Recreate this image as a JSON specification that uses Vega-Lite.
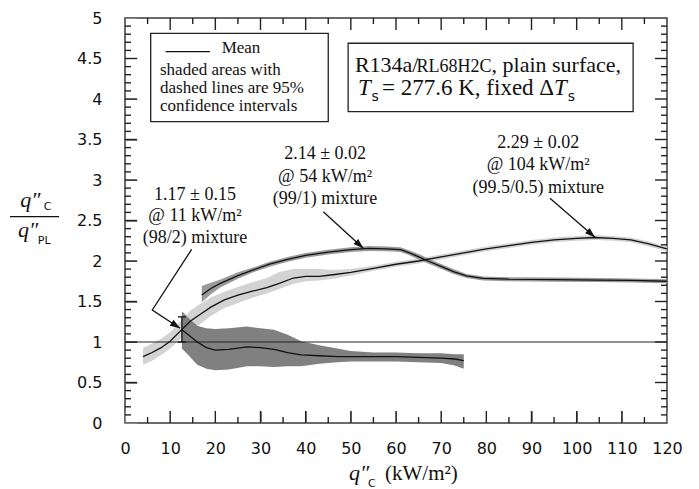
{
  "$schema": "https://vega.github.io/schema/vega-lite/v6.json",
  "width": 542,
  "height": 405,
  "autosize": "none",
  "padding": {"left": 125, "top": 18, "right": 32, "bottom": 66},
  "background": "white",
  "config": {
    "view": {"stroke": "#3a3a3a", "strokeWidth": 1.5},
    "axis": {"labelFont": "DejaVu Sans", "labelFontSize": 16, "labelColor": "#111", "domain": false, "grid": false, "labelFlush": false, "labelOverlap": false}
  },
  "datasets": {
    "curves": [
      {"s": "A", "x": 12.6, "m": 1.15, "lo": 0.92, "hi": 1.38},
      {"s": "A", "x": 14, "m": 1.09, "lo": 0.84, "hi": 1.3},
      {"s": "A", "x": 16, "m": 1.0, "lo": 0.72, "hi": 1.2},
      {"s": "A", "x": 18, "m": 0.93, "lo": 0.67, "hi": 1.17},
      {"s": "A", "x": 20, "m": 0.9, "lo": 0.65, "hi": 1.16},
      {"s": "A", "x": 23, "m": 0.91, "lo": 0.66, "hi": 1.17},
      {"s": "A", "x": 27, "m": 0.94, "lo": 0.7, "hi": 1.19},
      {"s": "A", "x": 30, "m": 0.93, "lo": 0.7, "hi": 1.17},
      {"s": "A", "x": 33, "m": 0.91, "lo": 0.69, "hi": 1.15},
      {"s": "A", "x": 36, "m": 0.87, "lo": 0.7, "hi": 1.09},
      {"s": "A", "x": 39, "m": 0.84, "lo": 0.7, "hi": 1.01},
      {"s": "A", "x": 43, "m": 0.83, "lo": 0.73, "hi": 0.96},
      {"s": "A", "x": 47, "m": 0.82, "lo": 0.75, "hi": 0.92},
      {"s": "A", "x": 50, "m": 0.82, "lo": 0.76, "hi": 0.89},
      {"s": "A", "x": 55, "m": 0.82, "lo": 0.76, "hi": 0.87},
      {"s": "A", "x": 60, "m": 0.82, "lo": 0.76, "hi": 0.87},
      {"s": "A", "x": 65, "m": 0.81, "lo": 0.75, "hi": 0.86},
      {"s": "A", "x": 70, "m": 0.8, "lo": 0.74, "hi": 0.86},
      {"s": "A", "x": 73, "m": 0.79, "lo": 0.71, "hi": 0.85},
      {"s": "A", "x": 75, "m": 0.77, "lo": 0.67, "hi": 0.85},
      {"s": "B", "x": 4, "m": 0.82, "lo": 0.72, "hi": 0.93},
      {"s": "B", "x": 6, "m": 0.87, "lo": 0.77, "hi": 0.98},
      {"s": "B", "x": 8, "m": 0.93, "lo": 0.84, "hi": 1.04},
      {"s": "B", "x": 10, "m": 1.01, "lo": 0.92, "hi": 1.12},
      {"s": "B", "x": 12.5, "m": 1.15, "lo": 1.05, "hi": 1.27},
      {"s": "B", "x": 14.5, "m": 1.26, "lo": 1.15, "hi": 1.39},
      {"s": "B", "x": 16.6, "m": 1.34, "lo": 1.22, "hi": 1.47},
      {"s": "B", "x": 19, "m": 1.43, "lo": 1.32, "hi": 1.55},
      {"s": "B", "x": 22, "m": 1.52, "lo": 1.42, "hi": 1.62},
      {"s": "B", "x": 25, "m": 1.58, "lo": 1.48, "hi": 1.68},
      {"s": "B", "x": 28.4, "m": 1.63, "lo": 1.55, "hi": 1.74},
      {"s": "B", "x": 31.4, "m": 1.67, "lo": 1.6, "hi": 1.79},
      {"s": "B", "x": 34, "m": 1.72, "lo": 1.65, "hi": 1.86},
      {"s": "B", "x": 37.3, "m": 1.79, "lo": 1.72, "hi": 1.9},
      {"s": "B", "x": 40, "m": 1.81, "lo": 1.75, "hi": 1.9},
      {"s": "B", "x": 43, "m": 1.81, "lo": 1.76, "hi": 1.9},
      {"s": "B", "x": 46, "m": 1.83, "lo": 1.78, "hi": 1.89},
      {"s": "B", "x": 50, "m": 1.86, "lo": 1.82, "hi": 1.9},
      {"s": "B", "x": 55, "m": 1.91, "lo": 1.88, "hi": 1.94},
      {"s": "B", "x": 60, "m": 1.96, "lo": 1.93, "hi": 1.99},
      {"s": "B", "x": 65, "m": 2.0, "lo": 1.97, "hi": 2.03},
      {"s": "B", "x": 70, "m": 2.05, "lo": 2.02, "hi": 2.08},
      {"s": "B", "x": 75, "m": 2.1, "lo": 2.07, "hi": 2.13},
      {"s": "B", "x": 80, "m": 2.15, "lo": 2.12, "hi": 2.18},
      {"s": "B", "x": 85, "m": 2.19, "lo": 2.16, "hi": 2.22},
      {"s": "B", "x": 90, "m": 2.23, "lo": 2.2, "hi": 2.26},
      {"s": "B", "x": 95, "m": 2.26, "lo": 2.23, "hi": 2.29},
      {"s": "B", "x": 100, "m": 2.28, "lo": 2.25, "hi": 2.31},
      {"s": "B", "x": 104, "m": 2.29, "lo": 2.26, "hi": 2.32},
      {"s": "B", "x": 108, "m": 2.28, "lo": 2.25, "hi": 2.31},
      {"s": "B", "x": 112, "m": 2.26, "lo": 2.23, "hi": 2.29},
      {"s": "B", "x": 116, "m": 2.21, "lo": 2.18, "hi": 2.24},
      {"s": "B", "x": 120, "m": 2.15, "lo": 2.12, "hi": 2.18},
      {"s": "C", "x": 17, "m": 1.58, "lo": 1.49, "hi": 1.69},
      {"s": "C", "x": 19, "m": 1.66, "lo": 1.59, "hi": 1.73},
      {"s": "C", "x": 21, "m": 1.72, "lo": 1.67, "hi": 1.77},
      {"s": "C", "x": 25, "m": 1.82, "lo": 1.78, "hi": 1.86},
      {"s": "C", "x": 28.4, "m": 1.89, "lo": 1.86, "hi": 1.92},
      {"s": "C", "x": 32, "m": 1.96, "lo": 1.93, "hi": 1.99},
      {"s": "C", "x": 36, "m": 2.02, "lo": 1.99, "hi": 2.05},
      {"s": "C", "x": 40, "m": 2.07, "lo": 2.04, "hi": 2.1},
      {"s": "C", "x": 45, "m": 2.11, "lo": 2.08, "hi": 2.14},
      {"s": "C", "x": 50, "m": 2.14, "lo": 2.11, "hi": 2.17},
      {"s": "C", "x": 54, "m": 2.155, "lo": 2.125, "hi": 2.185},
      {"s": "C", "x": 58, "m": 2.15, "lo": 2.12, "hi": 2.18},
      {"s": "C", "x": 61, "m": 2.14, "lo": 2.11, "hi": 2.17},
      {"s": "C", "x": 63, "m": 2.1, "lo": 2.07, "hi": 2.13},
      {"s": "C", "x": 65.3, "m": 2.045, "lo": 2.01, "hi": 2.08},
      {"s": "C", "x": 67.1, "m": 2.0, "lo": 1.97, "hi": 2.03},
      {"s": "C", "x": 69.7, "m": 1.94, "lo": 1.91, "hi": 1.97},
      {"s": "C", "x": 72.7, "m": 1.87, "lo": 1.84, "hi": 1.9},
      {"s": "C", "x": 75.6, "m": 1.815, "lo": 1.79, "hi": 1.84},
      {"s": "C", "x": 79.3, "m": 1.785, "lo": 1.76, "hi": 1.81},
      {"s": "C", "x": 85, "m": 1.775, "lo": 1.75, "hi": 1.8},
      {"s": "C", "x": 95, "m": 1.77, "lo": 1.745, "hi": 1.795},
      {"s": "C", "x": 105, "m": 1.765, "lo": 1.74, "hi": 1.79},
      {"s": "C", "x": 112, "m": 1.76, "lo": 1.735, "hi": 1.785},
      {"s": "C", "x": 120, "m": 1.75, "lo": 1.725, "hi": 1.775}
    ],
    "ann": [
      {"x": 15.5, "y": 2.753, "t": "1.17 ± 0.15"},
      {"x": 15.5, "y": 2.49, "t": "@ 11 kW/m²"},
      {"x": 15.5, "y": 2.222, "t": "(98/2) mixture"},
      {"x": 44.3, "y": 3.256, "t": "2.14 ± 0.02"},
      {"x": 44.3, "y": 2.979, "t": "@ 54 kW/m²"},
      {"x": 44.3, "y": 2.704, "t": "(99/1) mixture"},
      {"x": 91.5, "y": 3.395, "t": "2.29 ± 0.02"},
      {"x": 91.5, "y": 3.123, "t": "@ 104 kW/m²"},
      {"x": 91.5, "y": 2.84, "t": "(99.5/0.5) mixture"}
    ],
    "leg": [
      {"x": 21.4, "y": 4.568, "t": "Mean"},
      {"x": 7.75, "y": 4.3, "t": "shaded areas with"},
      {"x": 7.75, "y": 4.075, "t": "dashed lines are 95%"},
      {"x": 7.75, "y": 3.85, "t": "confidence intervals"}
    ],
    "arrows": [
      {"a": 1, "k": 0, "x": 14.76, "y": 2.144},
      {"a": 1, "k": 1, "x": 6.04, "y": 1.395},
      {"a": 1, "k": 2, "x": 12.18, "y": 1.169},
      {"a": 2, "k": 0, "x": 43.9, "y": 2.609},
      {"a": 2, "k": 1, "x": 52.76, "y": 2.157},
      {"a": 3, "k": 0, "x": 94.09, "y": 2.774},
      {"a": 3, "k": 1, "x": 104.05, "y": 2.293}
    ],
    "xticks": [
      {"x": 5, "y": 0, "y2": 0.074}, {"x": 10, "y": 0, "y2": 0.148}, {"x": 15, "y": 0, "y2": 0.074}, {"x": 20, "y": 0, "y2": 0.148},
      {"x": 25, "y": 0, "y2": 0.074}, {"x": 30, "y": 0, "y2": 0.148}, {"x": 35, "y": 0, "y2": 0.074}, {"x": 40, "y": 0, "y2": 0.148},
      {"x": 45, "y": 0, "y2": 0.074}, {"x": 50, "y": 0, "y2": 0.148}, {"x": 55, "y": 0, "y2": 0.074}, {"x": 60, "y": 0, "y2": 0.148},
      {"x": 65, "y": 0, "y2": 0.074}, {"x": 70, "y": 0, "y2": 0.148}, {"x": 75, "y": 0, "y2": 0.074}, {"x": 80, "y": 0, "y2": 0.148},
      {"x": 85, "y": 0, "y2": 0.074}, {"x": 90, "y": 0, "y2": 0.148}, {"x": 95, "y": 0, "y2": 0.074}, {"x": 100, "y": 0, "y2": 0.148},
      {"x": 105, "y": 0, "y2": 0.074}, {"x": 110, "y": 0, "y2": 0.148}, {"x": 115, "y": 0, "y2": 0.074},
      {"x": 5, "y": 5, "y2": 4.926}, {"x": 10, "y": 5, "y2": 4.852}, {"x": 15, "y": 5, "y2": 4.926}, {"x": 20, "y": 5, "y2": 4.852},
      {"x": 25, "y": 5, "y2": 4.926}, {"x": 30, "y": 5, "y2": 4.852}, {"x": 35, "y": 5, "y2": 4.926}, {"x": 40, "y": 5, "y2": 4.852},
      {"x": 45, "y": 5, "y2": 4.926}, {"x": 50, "y": 5, "y2": 4.852}, {"x": 55, "y": 5, "y2": 4.926}, {"x": 60, "y": 5, "y2": 4.852},
      {"x": 65, "y": 5, "y2": 4.926}, {"x": 70, "y": 5, "y2": 4.852}, {"x": 75, "y": 5, "y2": 4.926}, {"x": 80, "y": 5, "y2": 4.852},
      {"x": 85, "y": 5, "y2": 4.926}, {"x": 90, "y": 5, "y2": 4.852}, {"x": 95, "y": 5, "y2": 4.926}, {"x": 100, "y": 5, "y2": 4.852},
      {"x": 105, "y": 5, "y2": 4.926}, {"x": 110, "y": 5, "y2": 4.852}, {"x": 115, "y": 5, "y2": 4.926}
    ],
    "yticks": [
      {"x": 0, "x2": 1.33, "y": 0.1}, {"x": 0, "x2": 1.33, "y": 0.2}, {"x": 0, "x2": 1.33, "y": 0.3}, {"x": 0, "x2": 1.33, "y": 0.4}, {"x": 0, "x2": 2.66, "y": 0.5},
      {"x": 0, "x2": 1.33, "y": 0.6}, {"x": 0, "x2": 1.33, "y": 0.7}, {"x": 0, "x2": 1.33, "y": 0.8}, {"x": 0, "x2": 1.33, "y": 0.9}, {"x": 0, "x2": 2.66, "y": 1},
      {"x": 0, "x2": 1.33, "y": 1.1}, {"x": 0, "x2": 1.33, "y": 1.2}, {"x": 0, "x2": 1.33, "y": 1.3}, {"x": 0, "x2": 1.33, "y": 1.4}, {"x": 0, "x2": 2.66, "y": 1.5},
      {"x": 0, "x2": 1.33, "y": 1.6}, {"x": 0, "x2": 1.33, "y": 1.7}, {"x": 0, "x2": 1.33, "y": 1.8}, {"x": 0, "x2": 1.33, "y": 1.9}, {"x": 0, "x2": 2.66, "y": 2},
      {"x": 0, "x2": 1.33, "y": 2.1}, {"x": 0, "x2": 1.33, "y": 2.2}, {"x": 0, "x2": 1.33, "y": 2.3}, {"x": 0, "x2": 1.33, "y": 2.4}, {"x": 0, "x2": 2.66, "y": 2.5},
      {"x": 0, "x2": 1.33, "y": 2.6}, {"x": 0, "x2": 1.33, "y": 2.7}, {"x": 0, "x2": 1.33, "y": 2.8}, {"x": 0, "x2": 1.33, "y": 2.9}, {"x": 0, "x2": 2.66, "y": 3},
      {"x": 0, "x2": 1.33, "y": 3.1}, {"x": 0, "x2": 1.33, "y": 3.2}, {"x": 0, "x2": 1.33, "y": 3.3}, {"x": 0, "x2": 1.33, "y": 3.4}, {"x": 0, "x2": 2.66, "y": 3.5},
      {"x": 0, "x2": 1.33, "y": 3.6}, {"x": 0, "x2": 1.33, "y": 3.7}, {"x": 0, "x2": 1.33, "y": 3.8}, {"x": 0, "x2": 1.33, "y": 3.9}, {"x": 0, "x2": 2.66, "y": 4},
      {"x": 0, "x2": 1.33, "y": 4.1}, {"x": 0, "x2": 1.33, "y": 4.2}, {"x": 0, "x2": 1.33, "y": 4.3}, {"x": 0, "x2": 1.33, "y": 4.4}, {"x": 0, "x2": 2.66, "y": 4.5},
      {"x": 0, "x2": 1.33, "y": 4.6}, {"x": 0, "x2": 1.33, "y": 4.7}, {"x": 0, "x2": 1.33, "y": 4.8}, {"x": 0, "x2": 1.33, "y": 4.9},
      {"x": 120, "x2": 118.67, "y": 0.1}, {"x": 120, "x2": 118.67, "y": 0.2}, {"x": 120, "x2": 118.67, "y": 0.3}, {"x": 120, "x2": 118.67, "y": 0.4}, {"x": 120, "x2": 117.34, "y": 0.5},
      {"x": 120, "x2": 118.67, "y": 0.6}, {"x": 120, "x2": 118.67, "y": 0.7}, {"x": 120, "x2": 118.67, "y": 0.8}, {"x": 120, "x2": 118.67, "y": 0.9}, {"x": 120, "x2": 117.34, "y": 1},
      {"x": 120, "x2": 118.67, "y": 1.1}, {"x": 120, "x2": 118.67, "y": 1.2}, {"x": 120, "x2": 118.67, "y": 1.3}, {"x": 120, "x2": 118.67, "y": 1.4}, {"x": 120, "x2": 117.34, "y": 1.5},
      {"x": 120, "x2": 118.67, "y": 1.6}, {"x": 120, "x2": 118.67, "y": 1.7}, {"x": 120, "x2": 118.67, "y": 1.8}, {"x": 120, "x2": 118.67, "y": 1.9}, {"x": 120, "x2": 117.34, "y": 2},
      {"x": 120, "x2": 118.67, "y": 2.1}, {"x": 120, "x2": 118.67, "y": 2.2}, {"x": 120, "x2": 118.67, "y": 2.3}, {"x": 120, "x2": 118.67, "y": 2.4}, {"x": 120, "x2": 117.34, "y": 2.5},
      {"x": 120, "x2": 118.67, "y": 2.6}, {"x": 120, "x2": 118.67, "y": 2.7}, {"x": 120, "x2": 118.67, "y": 2.8}, {"x": 120, "x2": 118.67, "y": 2.9}, {"x": 120, "x2": 117.34, "y": 3},
      {"x": 120, "x2": 118.67, "y": 3.1}, {"x": 120, "x2": 118.67, "y": 3.2}, {"x": 120, "x2": 118.67, "y": 3.3}, {"x": 120, "x2": 118.67, "y": 3.4}, {"x": 120, "x2": 117.34, "y": 3.5},
      {"x": 120, "x2": 118.67, "y": 3.6}, {"x": 120, "x2": 118.67, "y": 3.7}, {"x": 120, "x2": 118.67, "y": 3.8}, {"x": 120, "x2": 118.67, "y": 3.9}, {"x": 120, "x2": 117.34, "y": 4},
      {"x": 120, "x2": 118.67, "y": 4.1}, {"x": 120, "x2": 118.67, "y": 4.2}, {"x": 120, "x2": 118.67, "y": 4.3}, {"x": 120, "x2": 118.67, "y": 4.4}, {"x": 120, "x2": 117.34, "y": 4.5},
      {"x": 120, "x2": 118.67, "y": 4.6}, {"x": 120, "x2": 118.67, "y": 4.7}, {"x": 120, "x2": 118.67, "y": 4.8}, {"x": 120, "x2": 118.67, "y": 4.9}
    ]
  },
  "encoding": {
    "x": {"field": "x", "type": "quantitative", "scale": {"domain": [0, 120], "nice": false, "zero": false}, "axis": null},
    "y": {"field": "y", "type": "quantitative", "scale": {"domain": [0, 5], "nice": false, "zero": false}, "axis": null}
  },
  "layer": [
    {
      "data": {"name": "curves"},
      "transform": [{"filter": "datum.s === 'B'"}],
      "mark": {"type": "area", "color": "#d3d3d3"},
      "encoding": {
        "x": {"field": "x", "type": "quantitative", "scale": {"domain": [0, 120], "nice": false, "zero": false},
          "axis": {"orient": "bottom", "title": null, "offset": -12, "tickSize": 12, "values": [0,10,20,30,40,50,60,70,80,90,100,110,120], "labelPadding": 17}},
        "y": {"field": "lo", "type": "quantitative", "scale": {"domain": [0, 5], "nice": false, "zero": false},
          "axis": {"orient": "left", "title": null, "offset": -12, "tickSize": 12, "values": [0,0.5,1,1.5,2,2.5,3,3.5,4,4.5,5], "format": "~g", "labelPadding": 23}},
        "y2": {"field": "hi"}
      }
    },
    {
      "data": {"name": "curves"},
      "transform": [{"filter": "datum.s === 'C'"}],
      "mark": {"type": "area", "color": "#9a9a9a"},
      "encoding": {
        "y": {"field": "lo", "type": "quantitative", "scale": {"domain": [0, 5], "nice": false, "zero": false}, "axis": null},
        "y2": {"field": "hi"}
      }
    },
    {
      "data": {"name": "curves"},
      "transform": [{"filter": "datum.s === 'A'"}],
      "mark": {"type": "area", "color": "#808080"},
      "encoding": {
        "y": {"field": "lo", "type": "quantitative", "scale": {"domain": [0, 5], "nice": false, "zero": false}, "axis": null},
        "y2": {"field": "hi"}
      }
    },
    {
      "data": {"values": [{"x": 0, "x2": 120, "y": 1}]},
      "mark": {"type": "rule", "color": "#222", "strokeWidth": 1.2},
      "encoding": {"x2": {"field": "x2"}}
    },
    {
      "data": {"name": "curves"},
      "mark": {"type": "line", "color": "#111", "strokeWidth": 1.3},
      "encoding": {
        "y": {"field": "m", "type": "quantitative", "scale": {"domain": [0, 5], "nice": false, "zero": false}, "axis": null},
        "detail": {"field": "s"}
      }
    },
    {
      "data": {"name": "xticks"},
      "mark": {"type": "rule", "color": "#222", "strokeWidth": 1.4},
      "encoding": {"y2": {"field": "y2"}}
    },
    {
      "data": {"name": "yticks"},
      "mark": {"type": "rule", "color": "#222", "strokeWidth": 1.4},
      "encoding": {"x2": {"field": "x2"}}
    },
    {
      "data": {"values": [{"x": 12.6, "y": 1.0, "y2": 1.31}]},
      "mark": {"type": "rule", "color": "#111", "strokeWidth": 1.3},
      "encoding": {"y2": {"field": "y2"}}
    },
    {
      "data": {"values": [{"x": 12.6, "y": 1.0}, {"x": 12.6, "y": 1.31}]},
      "mark": {"type": "tick", "orient": "horizontal", "size": 8, "thickness": 1.3, "color": "#111", "opacity": 1}
    },
    {
      "data": {"name": "arrows"},
      "mark": {"type": "line", "color": "#111", "strokeWidth": 1.3},
      "encoding": {"detail": {"field": "a"}, "order": {"field": "k"}}
    },
    {
      "data": {"values": [{"x": 12.18, "y": 1.169}]},
      "mark": {"type": "point", "shape": "M0,0L0.45,1.3L-0.45,1.3Z", "filled": true, "color": "#111", "opacity": 1, "size": 240, "angle": 123.5}
    },
    {
      "data": {"values": [{"x": 52.76, "y": 2.157}]},
      "mark": {"type": "point", "shape": "M0,0L0.45,1.3L-0.45,1.3Z", "filled": true, "color": "#111", "opacity": 1, "size": 240, "angle": 132.5}
    },
    {
      "data": {"values": [{"x": 104.05, "y": 2.293}]},
      "mark": {"type": "point", "shape": "M0,0L0.45,1.3L-0.45,1.3Z", "filled": true, "color": "#111", "opacity": 1, "size": 240, "angle": 131}
    },
    {
      "data": {"values": [{"x": 5.69, "x2": 45.0, "y": 4.811, "y2": 3.72}, {"x": 49.4, "x2": 112.5, "y": 4.688, "y2": 3.843}]},
      "mark": {"type": "rect", "fill": "white", "fillOpacity": 0, "stroke": "#222", "strokeWidth": 1.3},
      "encoding": {"x2": {"field": "x2"}, "y2": {"field": "y2"}}
    },
    {
      "data": {"values": [{"x": 9.0, "x2": 18.8, "y": 4.584}]},
      "mark": {"type": "rule", "color": "#111", "strokeWidth": 1.3},
      "encoding": {"x2": {"field": "x2"}}
    },
    {
      "data": {"name": "ann"},
      "mark": {"type": "text", "font": "Liberation Serif", "fontSize": 18, "align": "center", "baseline": "alphabetic", "color": "#111"},
      "encoding": {"text": {"field": "t"}}
    },
    {
      "data": {"name": "leg"},
      "mark": {"type": "text", "font": "Liberation Serif", "fontSize": 17, "align": "left", "baseline": "alphabetic", "color": "#111"},
      "encoding": {"text": {"field": "t"}}
    },
    {
      "data": {"values": [{"x": 50.9, "y": 4.337, "t": "R134a/"}, {"x": 81.16, "y": 4.337, "t": ", plain surface,"}]},
      "mark": {"type": "text", "font": "Liberation Serif", "fontSize": 22, "align": "left", "baseline": "alphabetic", "color": "#111"},
      "encoding": {"text": {"field": "t"}}
    },
    {
      "data": {"values": [{"x": 64.56, "y": 4.337, "t": "RL68H2C"}]},
      "mark": {"type": "text", "font": "Liberation Serif", "fontSize": 18, "align": "left", "baseline": "alphabetic", "color": "#111"},
      "encoding": {"text": {"field": "t"}}
    },
    {
      "data": {"values": [{"x": 56.9, "y": 4.05, "t": "= 277.6 K, fixed Δ"}]},
      "mark": {"type": "text", "font": "Liberation Serif", "fontSize": 23, "align": "left", "baseline": "alphabetic", "color": "#111"},
      "encoding": {"text": {"field": "t"}}
    },
    {
      "data": {"values": [{"x": 51.58, "y": 4.05, "t": "T"}, {"x": 94.98, "y": 4.05, "t": "T"}]},
      "mark": {"type": "text", "font": "Liberation Serif", "fontSize": 23, "fontStyle": "italic", "align": "left", "baseline": "alphabetic", "color": "#111"},
      "encoding": {"text": {"field": "t"}}
    },
    {
      "data": {"values": [{"x": 54.6, "y": 3.975, "t": "s"}, {"x": 98.0, "y": 3.975, "t": "s"}]},
      "mark": {"type": "text", "font": "DejaVu Sans", "fontSize": 14, "align": "left", "baseline": "alphabetic", "color": "#111"},
      "encoding": {"text": {"field": "t"}}
    },
    {
      "data": {"values": [{"x": -23.2, "y": 2.667, "t": "q″"}, {"x": -23.7, "y": 2.296, "t": "q″"}, {"x": 49.6, "y": -0.704, "t": "q″"}]},
      "mark": {"type": "text", "font": "Liberation Serif", "fontSize": 22, "fontStyle": "italic", "align": "left", "baseline": "alphabetic", "color": "#111"},
      "encoding": {"text": {"field": "t"}}
    },
    {
      "data": {"values": [{"x": -18.0, "y": 2.63, "t": "C"}, {"x": -19.3, "y": 2.21, "t": "PL"}, {"x": 53.8, "y": -0.79, "t": "C"}]},
      "mark": {"type": "text", "font": "DejaVu Sans", "fontSize": 11, "align": "left", "baseline": "alphabetic", "color": "#111"},
      "encoding": {"text": {"field": "t"}}
    },
    {
      "data": {"values": [{"x": 57.56, "y": -0.704, "t": "(kW/m²)"}]},
      "mark": {"type": "text", "font": "Liberation Serif", "fontSize": 21, "align": "left", "baseline": "alphabetic", "color": "#111"},
      "encoding": {"text": {"field": "t"}}
    },
    {
      "data": {"values": [{"x": -25.46, "x2": -14.61, "y": 2.547}]},
      "mark": {"type": "rule", "color": "#111", "strokeWidth": 1.2},
      "encoding": {"x2": {"field": "x2"}}
    }
  ],
  "resolve": {"axis": {"x": "independent", "y": "independent"}}
}
